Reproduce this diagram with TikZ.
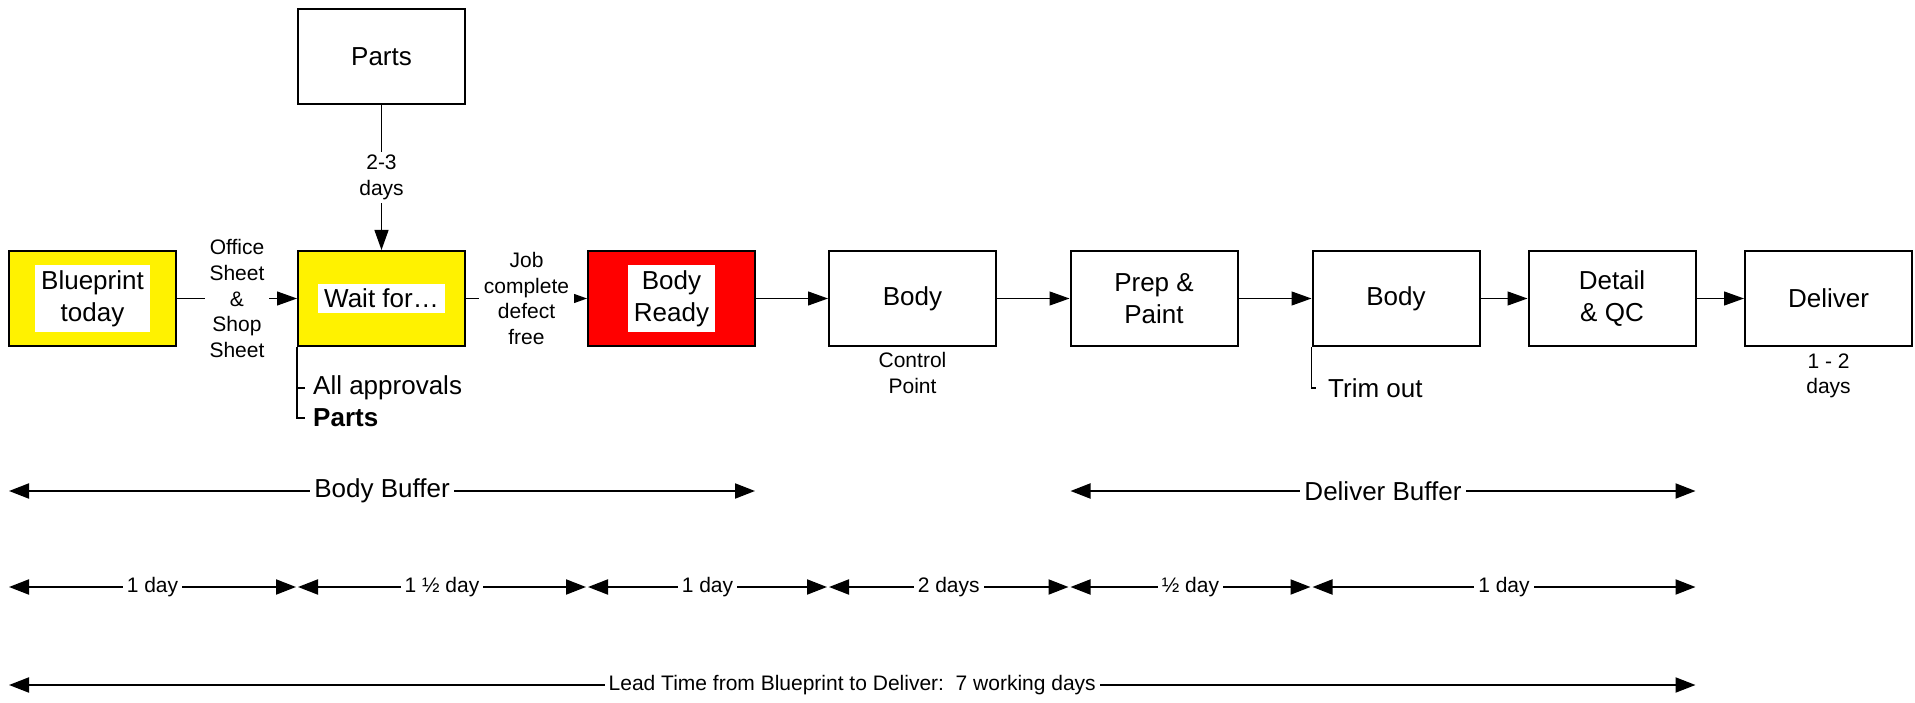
\documentclass[tikz,border=0pt]{standalone}
\usepackage{fontspec}
\setmainfont{Liberation Sans}
\usetikzlibrary{arrows.meta}
\newcommand{\bigtxt}{\fontsize{26}{32}\selectfont}
\newcommand{\smalltxt}{\fontsize{21}{25.6}\selectfont}
\begin{document}
\begin{tikzpicture}[x=1pt,y=-1pt,
  stage/.style={draw=black, line width=2pt, minimum width=167pt, minimum height=95pt,
    inner sep=0pt, align=center, font=\bigtxt},
  tag/.style={fill=white, inner xsep=6pt, inner ysep=5pt, align=center, font=\bigtxt},
  conn/.style={line width=1.2pt, -{Triangle[length=20pt,width=14pt]}},
  smalllab/.style={fill=white, inner xsep=5pt, inner ysep=3pt, align=center, font=\smalltxt},
  note/.style={inner sep=0pt, align=center, font=\smalltxt},
  side/.style={inner sep=0pt, anchor=west, font=\bigtxt},
  tee/.style={line width=1.6pt},
  dim/.style={line width=2pt, {Triangle[length=20pt,width=15pt]}-{Triangle[length=20pt,width=15pt]},
    shorten <=1pt, shorten >=1pt},
  dimlab/.style={fill=white, inner xsep=4pt, inner ysep=1pt, font=\smalltxt},
  buflab/.style={fill=white, inner xsep=4pt, inner ysep=1pt, font=\bigtxt}
]
\useasboundingbox (0,0) rectangle (1915,703);

% process boxes
\node[stage] (parts) at (381.5,56.5) {Parts};
\node[stage, fill=yellow] (bp) at (92.5,298.5) {};
\node[tag] (bptag) at (bp) {Blueprint\\today};
\node[stage, fill=yellow] (wt) at (381.5,298.5) {};
\node[tag] (wttag) at (wt) {Wait for\ldots};
\node[stage, fill=red] (br) at (671.5,298.5) {};
\node[tag] (brtag) at (br) {Body\\Ready};
\node[stage] (bd) at (912.5,298.5) {Body};
\node[stage] (pp) at (1154,298.5) {Prep \&\\Paint};
\node[stage] (b2) at (1396,298.5) {Body};
\node[stage] (dq) at (1612,298.5) {Detail\\\& QC};
\node[stage] (dl) at (1828.5,298.5) {Deliver};

% flow connectors
\draw[conn] (parts) -- node[smalllab] (ptime) {2-3\\days} (wt);
\draw[conn] (bp) -- node[smalllab] (sheets) {Office\\Sheet\\\&\\Shop\\Sheet} (wt);
\draw[conn] (wt) -- node[smalllab] (jobok) {Job\\complete\\defect\\free} (br);
\draw[conn] (br) -- (bd);
\draw[conn] (bd) -- (pp);
\draw[conn] (pp) -- (b2);
\draw[conn] (b2) -- (dq);
\draw[conn] (dq) -- (dl);

% notes under boxes
\node[note] (ctrl) at (912.5,373) {Control\\Point};
\node[note] (dldays) at (1828.5,376) {1 - 2\\days};
\node[side] (ap) at (313,388) {All approvals};
\node[side] (pa) at (313,418) {\bfseries Parts};
\node[side] (tr) at (1328,388) {Trim out};
\draw[tee] (wt.south west) |- ([xshift=-8pt]pa.west);
\draw[tee] ([xshift=-8pt]ap.west) -- (ap.west -| wt.south west);
\draw[tee] (b2.south west) |- ([xshift=-12pt]tr.west);

% time lines
\coordinate (rowbuf) at (0,491);
\coordinate (rowday) at (0,587);
\coordinate (rowlead) at (0,685);
\draw[dim] (bp.west |- rowbuf) -- node[buflab] (bbuf) {Body Buffer} (br.east |- rowbuf);
\draw[dim] (pp.west |- rowbuf) -- node[buflab] (dbuf) {Deliver Buffer} (dq.east |- rowbuf);

\draw[dim] (bp.west |- rowday) -- node[dimlab] (d1) {1 day} (wt.west |- rowday);
\draw[dim] (wt.west |- rowday) -- node[dimlab] (d2) {1 ½ day} (br.west |- rowday);
\draw[dim] (br.west |- rowday) -- node[dimlab] (d3) {1 day} (bd.west |- rowday);
\draw[dim] (bd.west |- rowday) -- node[dimlab] (d4) {2 days} (pp.west |- rowday);
\draw[dim] (pp.west |- rowday) -- node[dimlab] (d5) {½ day} (b2.west |- rowday);
\draw[dim] (b2.west |- rowday) -- node[dimlab] (d6) {1 day} (dq.east |- rowday);

\draw[dim] (bp.west |- rowlead) -- node[dimlab] (lead) {Lead Time from Blueprint to Deliver:\ \ 7 working days} (dq.east |- rowlead);
\end{tikzpicture}
\end{document}
